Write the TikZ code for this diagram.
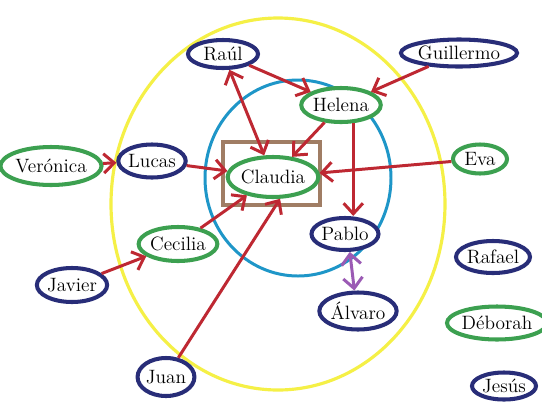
\documentclass[tikz,border=0pt]{standalone}
\usepackage{fontspec}
\usetikzlibrary{shapes.geometric,arrows.meta}
\definecolor{navy}{RGB}{40,45,120}
\definecolor{grn}{RGB}{60,160,80}
\definecolor{rd}{RGB}{190,40,50}
\definecolor{ylw}{RGB}{245,240,70}
\definecolor{cyn}{RGB}{30,150,200}
\definecolor{brn}{RGB}{160,125,100}
\definecolor{prp}{RGB}{155,90,180}
\tikzset{
  pers/.style={ellipse,draw,line width=2.3pt,fill=white,inner sep=0pt,font=\rmfamily\fontsize{11}{13}\selectfont},
  bluep/.style={pers,draw=navy},
  greenp/.style={pers,draw=grn},
  sz/.style 2 args={minimum width=#1*0.02cm,minimum height=#2*0.02cm},
  arr/.style={draw=rd,line width=1.7pt,-{Straight Barb[length=6pt,width=11pt,line width=1.7pt]}},
  darr/.style={draw=rd,line width=1.7pt,{Straight Barb[length=6pt,width=11pt,line width=1.7pt]}-{Straight Barb[length=6pt,width=11pt,line width=1.7pt]}},
  parr/.style={draw=prp,line width=1.7pt,{Straight Barb[length=6pt,width=11pt,line width=1.7pt]}-{Straight Barb[length=6pt,width=11pt,line width=1.7pt]}}
}
\begin{document}
\begin{tikzpicture}[x=0.02cm,y=-0.02cm]
\useasboundingbox (0,0) rectangle (542,407);
\fill[white] (0,0) rectangle (542,407);
% circles
\draw[ylw,line width=1.8pt] (278,204) ellipse [x radius=167,y radius=186];
\draw[cyn,line width=1.7pt] (298,178) ellipse [x radius=93,y radius=98];
\draw[brn,line width=2pt] (223,142) rectangle (320,205);
% nodes
\node[bluep,sz={70}{28}] (raul) at (223,54) {Raúl};
\node[greenp,sz={73}{34}] (helena) at (341,105) {Helena};
\node[bluep,sz={86}{27}] (guillermo) at (459,53) {Guillermo};
\node[greenp,sz={82}{38}] (veronica) at (51,166) {Verónica};
\node[bluep,sz={66}{33}] (lucas) at (152,161) {Lucas};
\node[greenp,sz={74}{40}] (claudia) at (273,177) {Claudia};
\node[greenp,sz={54}{29}] (eva) at (480,159) {Eva};
\node[greenp,sz={70}{34}] (cecilia) at (178,244) {Cecilia};
\node[bluep,sz={67}{32}] (pablo) at (345,234) {Pablo};
\node[bluep,sz={64}{32}] (rafael) at (493,257) {Rafael};
\node[bluep,sz={70}{34}] (javier) at (72,285) {Javier};
\node[bluep,sz={67}{37}] (alvaro) at (358,311) {Álvaro};
\node[greenp,sz={80}{33}] (deborah) at (497,323) {Déborah};
\node[bluep,sz={52}{38}] (juan) at (166,377) {Juan};
\node[bluep,sz={64}{27}] (jesus) at (504,386) {Jesús};
% connectors
\draw[arr] (raul) -- (helena);
\draw[arr] (guillermo) -- (helena);
\draw[arr] (helena) -- (claudia);
\draw[arr] (helena.304) -- (helena.304 |- pablo.north);
\draw[darr] (raul) -- (claudia);
\draw[arr] (lucas) -- (claudia);
\draw[arr] (veronica) -- (lucas);
\draw[arr] (eva) -- (claudia);
\draw[arr] (cecilia) -- (claudia);
\draw[arr] (javier) -- (cecilia);
\draw[arr] (juan) -- (claudia.-72);
\draw[parr] (pablo.-75) -- (alvaro.100);
\end{tikzpicture}
\end{document}
